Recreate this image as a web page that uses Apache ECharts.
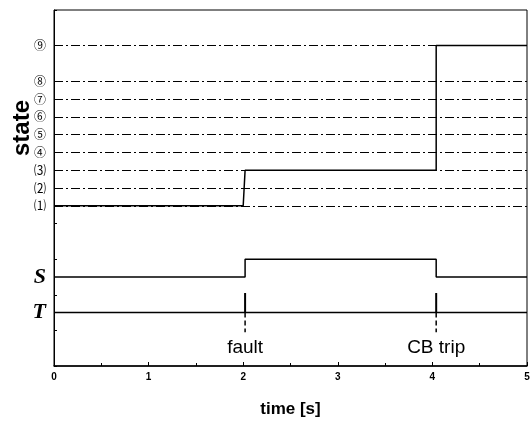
<!DOCTYPE html>
<html>
<head>
<meta charset="utf-8">
<title>state</title>
<script src="https://cdn.jsdelivr.net/npm/echarts@6/dist/echarts.min.js"></script>
<style>
  html, body { margin: 0; padding: 0; background: #fff; }
  #chart { width: 531px; height: 428px; }
</style>
</head>
<body>
<div id="chart"></div>
<script>
// state levels (y position) and their labels
var stateLevels = [4.5, 5, 5.5, 6, 6.5, 7, 7.5, 8, 9];
var stateNames = ['⑴', '⑵', '⑶', '④', '⑤', '⑥', '⑦', '⑧', '⑨'];

// signal rows S and T
var signalLevels = [2.5, 1.5];
var signalNames = ['S', 'T'];

// state trajectory
var stateTime = [0, 2.0, 2.02, 4.04, 4.04, 5];
var stateValue = [4.5, 4.5, 5.5, 5.5, 9, 9];

// S signal
var sTime = [0, 2.02, 2.02, 4.04, 4.04, 5];
var sValue = [2.5, 2.5, 3, 3, 2.5, 2.5];

// T signal
var tTime = [0, 5];
var tValue = [1.5, 1.5];

// events
var eventTime = [2.02, 4.04];
var eventNames = ['fault', 'CB trip'];
var spikeTop = 2.05;
var spikeBottom = 0.95;
var eventLabelY = 0.5;

var xTicks = [0, 1, 2, 3, 4, 5];

function pairs(xs, ys) {
    var out = [];
    for (var i = 0; i < xs.length; i++) out.push([xs[i], ys[i]]);
    return out;
}

function get_option() {
    var labelMap = {};
    stateLevels.forEach(function (v, i) { labelMap[v] = '{num|' + stateNames[i] + '}'; });
    signalLevels.forEach(function (v, i) { labelMap[v] = '{sig|' + signalNames[i] + '}'; });

    var series = [];
    // dash-dot reference lines for each state
    series.push({
        type: 'line',
        data: [],
        z: 1,
        markLine: {
            silent: true,
            symbol: 'none',
            label: { show: false },
            lineStyle: { color: '#000', width: 1, type: [9, 3, 2, 3] },
            data: stateLevels.map(function (v) { return { yAxis: v }; })
        }
    });
    series.push({
        name: 'state', type: 'line', data: pairs(stateTime, stateValue),
        symbol: 'none', z: 5,
        lineStyle: { color: '#000', width: 1.5 }
    });
    series.push({
        name: 'S', type: 'line', data: pairs(sTime, sValue),
        symbol: 'none', z: 5,
        lineStyle: { color: '#000', width: 1.5 }
    });
    series.push({
        name: 'T', type: 'line', data: pairs(tTime, tValue),
        symbol: 'none', z: 5,
        lineStyle: { color: '#000', width: 1.5 },
        markPoint: {
            symbol: 'rect',
            symbolSize: 1,
            itemStyle: { color: 'rgba(0,0,0,0)' },
            label: {
                show: true, position: 'inside', color: '#000',
                fontFamily: 'Liberation Sans', fontSize: 19,
                formatter: function (p) { return p.name; }
            },
            data: eventTime.map(function (t, i) {
                return { name: eventNames[i], coord: [t, eventLabelY], value: 0 };
            })
        }
    });
    eventTime.forEach(function (t) {
        series.push({
            type: 'line', data: [[t, tValue[0]], [t, spikeTop]],
            symbol: 'none', z: 6,
            lineStyle: { color: '#000', width: 2 }
        });
        series.push({
            type: 'line', data: [[t, tValue[0]], [t, spikeBottom]],
            symbol: 'none', z: 6,
            lineStyle: { color: '#000', width: 1.5, type: [5, 3] }
        });
    });

    return {
        animation: false,
        grid: {
            left: 54, right: 4, top: 10, bottom: 62,
            outerBoundsMode: 'none', containLabel: false,
            show: true, borderColor: '#000', borderWidth: 1
        },
        graphic: [{
            type: 'text', x: 22, y: 128, rotation: Math.PI / 2,
            style: {
                text: 'state', fill: '#000',
                font: 'bold 24px "Liberation Sans"',
                align: 'center', verticalAlign: 'middle'
            }
        }],
        xAxis: {
            type: 'value', min: 0, max: 5, interval: 1,
            name: 'time [s]', nameLocation: 'middle', nameGap: 35,
            nameTextStyle: { fontFamily: 'Liberation Sans', fontWeight: 'bold', fontSize: 17, color: '#000' },
            axisLine: { lineStyle: { color: '#000', width: 1.5 } },
            axisTick: { inside: true, length: 4, lineStyle: { color: '#000' } },
            minorTick: { show: true, splitNumber: 2, length: 3, lineStyle: { color: '#000' } },
            splitLine: { show: false },
            axisLabel: {
                color: '#000', fontFamily: 'Liberation Sans', fontWeight: 'bold', fontSize: 10, margin: 6,
                formatter: function (v) { return xTicks.indexOf(v) >= 0 ? String(v) : ''; }
            }
        },
        yAxis: [{
            type: 'value', min: 0, max: 10, interval: 1,
            axisLine: { show: true, lineStyle: { color: '#000', width: 1 } },
            axisTick: { inside: true, length: 3, lineStyle: { color: '#000' } },
            axisLabel: { show: false },
            splitLine: { show: false }
        }, {
            type: 'value', min: 0, max: 10, interval: 0.5, position: 'left',
            axisLine: { show: false }, axisTick: { show: false }, splitLine: { show: false },
            axisLabel: {
                margin: 8,
                formatter: function (v) { return labelMap[v] || ''; },
                rich: {
                    num: { fontFamily: 'Noto Sans CJK SC', fontSize: 12, color: '#000' },
                    sig: { fontFamily: 'Liberation Serif', fontStyle: 'italic', fontWeight: 'bold', fontSize: 22, color: '#000' }
                }
            }
        }],
        series: series
    };
}

var myChart = echarts.init(document.getElementById('chart'));
myChart.setOption(get_option());
</script>
</body>
</html>
